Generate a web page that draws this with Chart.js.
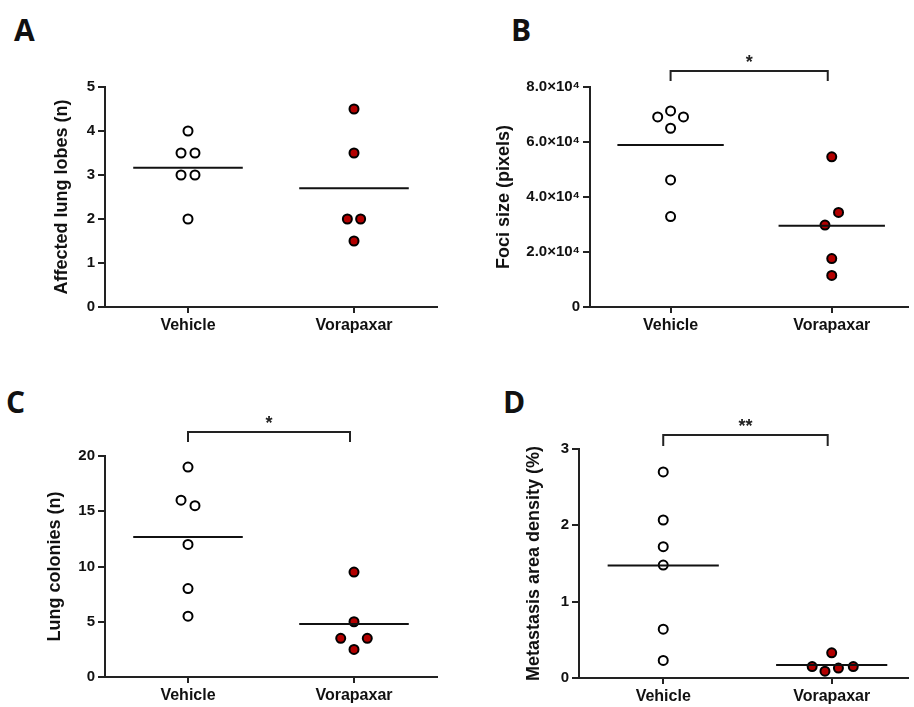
<!DOCTYPE html>
<html>
<head>
<meta charset="utf-8">
<script src="https://cdn.jsdelivr.net/npm/chart.js@4.4.0/dist/chart.umd.min.js"></script>
<style>
body{margin:0;background:#fff;}
#wrap{position:relative;width:914px;height:707px;overflow:hidden;background:#fff;}
canvas{position:absolute;}
.letter{position:absolute;font-family:"Open Sans";font-weight:700;font-size:30px;line-height:30px;color:#111;}
</style>
</head>
<body>
<div id="wrap">
    <div class="letter" style="left:14px;top:15px">A</div>
    <div class="letter" style="left:511px;top:15px">B</div>
    <div class="letter" style="left:6px;top:387px">C</div>
    <div class="letter" style="left:503px;top:387px">D</div>
    <canvas id="chartA" width="457" height="313" style="left:0;top:40px"></canvas>
    <canvas id="chartB" width="457" height="313" style="left:457px;top:40px"></canvas>
    <canvas id="chartC" width="457" height="307" style="left:0;top:400px"></canvas>
    <canvas id="chartD" width="457" height="307" style="left:457px;top:400px"></canvas>
</div>
<script>
var categories = ['Vehicle', 'Vorapaxar'];

// A - affected lung lobes
var lobesVehicle = [4, 3.5, 3.5, 3, 3, 2];
var lobesVorapaxar = [4.5, 3.5, 2, 2, 1.5];
var lobesTicks = [0, 1, 2, 3, 4, 5];
var lobesTickLabels = ['0', '1', '2', '3', '4', '5'];

// B - foci size
var fociVehicle = [71300, 69100, 69100, 65000, 46200, 32900];
var fociVorapaxar = [54600, 34400, 29800, 17600, 11500];
var fociTicks = [0, 20000, 40000, 60000, 80000];
var fociTickLabels = ['0', '2.0\u00d710\u2074', '4.0\u00d710\u2074', '6.0\u00d710\u2074', '8.0\u00d710\u2074'];

// C - lung colonies
var coloniesVehicle = [19, 16, 15.5, 12, 8, 5.5];
var coloniesVorapaxar = [9.5, 5, 3.5, 3.5, 2.5];
var coloniesTicks = [0, 5, 10, 15, 20];
var coloniesTickLabels = ['0', '5', '10', '15', '20'];

// D - metastasis area density
var densityVehicle = [2.70, 2.07, 1.72, 1.48, 0.64, 0.23];
var densityVorapaxar = [0.33, 0.15, 0.09, 0.13, 0.15];
var densityTicks = [0, 1, 2, 3];
var densityTickLabels = ['0', '1', '2', '3'];

// sideways spread of overlapping dots (category units)
var spreadA = [[0, -0.042, 0.042, -0.042, 0.042, 0], [0, 0, -0.04, 0.04, 0]];
var spreadB = [[0, -0.08, 0.08, 0, 0, 0], [0, 0.042, -0.042, 0, 0]];
var spreadC = [[0, -0.042, 0.042, 0, 0, 0], [0, 0, -0.08, 0.08, 0]];
var spreadD = [[0, 0, 0, 0, 0, 0], [0, -0.116, -0.04, 0.04, 0.128]];

var fontFamily = '"Liberation Sans", Arial, sans-serif';

function mean(arr) {
    var s = 0;
    for (var i = 0; i < arr.length; i++) s += arr[i];
    return s / arr.length;
}

function toPoints(values, cat, spread) {
    var pts = [];
    for (var i = 0; i < values.length; i++) {
        pts.push({x: cat + spread[i], y: values[i]});
    }
    return pts;
}

var bracketPlugin = {
    id: 'bracket',
    afterDraw: function(chart, args, opts) {
        if (!opts.text) return;
        var ctx = chart.ctx;
        var xs = chart.scales.x;
        var top = chart.chartArea.top;
        var x1 = xs.getPixelForValue(0);
        var x2 = xs.getPixelForValue(1) - 4;
        var yb = top - opts.rise;
        var yl = yb + opts.leg;
        ctx.save();
        ctx.strokeStyle = '#222';
        ctx.lineWidth = 2;
        ctx.beginPath();
        ctx.moveTo(x1, yl);
        ctx.lineTo(x1, yb);
        ctx.lineTo(x2, yb);
        ctx.lineTo(x2, yl);
        ctx.stroke();
        ctx.fillStyle = '#222';
        ctx.font = 'bold 18px ' + fontFamily;
        ctx.textAlign = 'center';
        ctx.fillText(opts.text, (x1 + x2) / 2, yb - 3);
        ctx.restore();
    }
};

function makePanel(id, p) {
    var mv = mean(p.vehicle);
    var mo = mean(p.vorapaxar);
    var lineStyle = {showLine: true, borderColor: '#111', borderWidth: 2, pointRadius: 0, order: 0, clip: false};

    new Chart(document.getElementById(id), {
        type: 'scatter',
        data: {
            datasets: [
                Object.assign({data: [{x: -0.33, y: mv}, {x: 0.33, y: mv}]}, lineStyle),
                Object.assign({data: [{x: 0.67, y: mo}, {x: 1.33, y: mo}]}, lineStyle),
                {
                    data: toPoints(p.vehicle, 0, p.spread[0]),
                    pointRadius: 4.5,
                    pointBackgroundColor: '#fff',
                    pointBorderColor: '#000',
                    pointBorderWidth: 2,
                    order: 1,
                    clip: false
                },
                {
                    data: toPoints(p.vorapaxar, 1, p.spread[1]),
                    pointRadius: 4.5,
                    pointBackgroundColor: '#b30000',
                    pointBorderColor: '#000',
                    pointBorderWidth: 2,
                    order: 1,
                    clip: false
                }
            ]
        },
        options: {
            responsive: false,
            animation: false,
            events: [],
            layout: {padding: {top: p.padTop, right: p.padRight, left: 0, bottom: 0}},
            plugins: {
                legend: {display: false},
                tooltip: {enabled: false},
                bracket: p.bracket
            },
            scales: {
                x: {
                    type: 'linear',
                    min: -0.5,
                    max: p.xMax,
                    afterBuildTicks: function(s) { s.ticks = [{value: 0}, {value: 1}]; },
                    afterFit: function(s) { s.height = p.xH; },
                    grid: {drawOnChartArea: false, tickLength: 6, lineWidth: 2, color: '#222'},
                    border: {display: true, color: '#222', width: 2},
                    ticks: {
                        padding: 3,
                        color: '#111',
                        font: {family: fontFamily, weight: 'bold', size: 16},
                        callback: function(v) { return categories[v]; }
                    }
                },
                y: {
                    min: p.ticks[0],
                    max: p.ticks[p.ticks.length - 1],
                    afterBuildTicks: function(s) {
                        s.ticks = p.ticks.map(function(v) { return {value: v}; });
                    },
                    afterFit: function(s) { s.width = p.yW; },
                    grid: {drawOnChartArea: false, tickLength: 7, lineWidth: 2, color: '#222'},
                    border: {display: true, color: '#222', width: 2},
                    ticks: {
                        padding: 3,
                        color: '#111',
                        font: {family: fontFamily, weight: 'bold', size: 15},
                        callback: function(v, i) { return p.tickLabels[i]; }
                    },
                    title: {
                        display: true,
                        text: p.yTitle,
                        color: '#111',
                        font: {family: fontFamily, weight: 'bold', size: 18},
                        padding: {top: p.titlePad, bottom: 0}
                    }
                }
            }
        },
        plugins: [bracketPlugin]
    });
}

makePanel('chartA', {
    vehicle: lobesVehicle, vorapaxar: lobesVorapaxar, spread: spreadA,
    ticks: lobesTicks, tickLabels: lobesTickLabels, yTitle: 'Affected lung lobes (n)',
    padTop: 47, padRight: 20, yW: 105, xH: 46, xMax: 1.5, titlePad: 51,
    bracket: false
});

makePanel('chartB', {
    vehicle: fociVehicle, vorapaxar: fociVorapaxar, spread: spreadB,
    ticks: fociTicks, tickLabels: fociTickLabels, yTitle: 'Foci size (pixels)',
    padTop: 47, padRight: 0, yW: 133, xH: 46, xMax: 1.47, titlePad: 36,
    bracket: {text: '*', rise: 16, leg: 10}
});

makePanel('chartC', {
    vehicle: coloniesVehicle, vorapaxar: coloniesVorapaxar, spread: spreadC,
    ticks: coloniesTicks, tickLabels: coloniesTickLabels, yTitle: 'Lung colonies (n)',
    padTop: 56, padRight: 20, yW: 105, xH: 30, xMax: 1.5, titlePad: 44,
    bracket: {text: '*', rise: 24, leg: 10}
});

makePanel('chartD', {
    vehicle: densityVehicle, vorapaxar: densityVorapaxar, spread: spreadD,
    ticks: densityTicks, tickLabels: densityTickLabels, yTitle: 'Metastasis area density (%)',
    padTop: 49, padRight: 0, yW: 122, xH: 29, xMax: 1.45, titlePad: 66,
    bracket: {text: '**', rise: 14, leg: 11}
});
</script>
</body>
</html>
